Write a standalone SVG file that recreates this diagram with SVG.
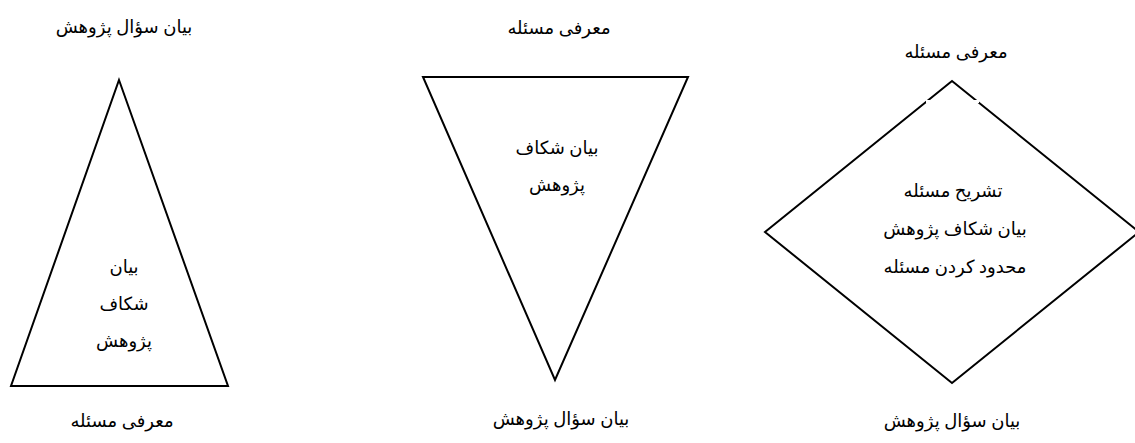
<svg xmlns="http://www.w3.org/2000/svg" width="1135" height="443" viewBox="0 0 1135 443">
<style>
text{font-family:"Liberation Serif","DejaVu Sans",serif;font-size:18px;fill:#000;text-anchor:middle}
.shape{fill:#fff;stroke:#000;stroke-width:2;stroke-linejoin:miter}
</style>
<rect width="1135" height="443" fill="#fff"/>
<g id="node-triangle-up">
<polygon class="shape" points="119,80 228,386 11,386"/>
<text x="124" y="33">بيان سؤال پژوهش</text>
<text x="124" y="273">بيان</text>
<text x="124" y="310">شكاف</text>
<text x="124" y="347">پژوهش</text>
<text x="122" y="427">معرفی مسئله</text>
</g>
<g id="node-triangle-down">
<polygon class="shape" points="423,77 688,77 555,380"/>
<text x="559" y="34">معرفی مسئله</text>
<text x="557" y="154">بيان شكاف</text>
<text x="557" y="191">پژوهش</text>
<text x="561" y="425">بيان سؤال پژوهش</text>
</g>
<g id="node-diamond">
<polygon class="shape" points="952,81 1139,232 952,383 765,232"/>
<rect x="926" y="100" width="53" height="3" fill="#fff"/>
<text x="956" y="58">معرفی مسئله</text>
<text x="953" y="197">تشريح مسئله</text>
<text x="955" y="235">بيان شكاف پژوهش</text>
<text x="955" y="273">محدود كردن مسئله</text>
<text x="952" y="427">بيان سؤال پژوهش</text>
</g>
<g id="connectors"></g>
</svg>
